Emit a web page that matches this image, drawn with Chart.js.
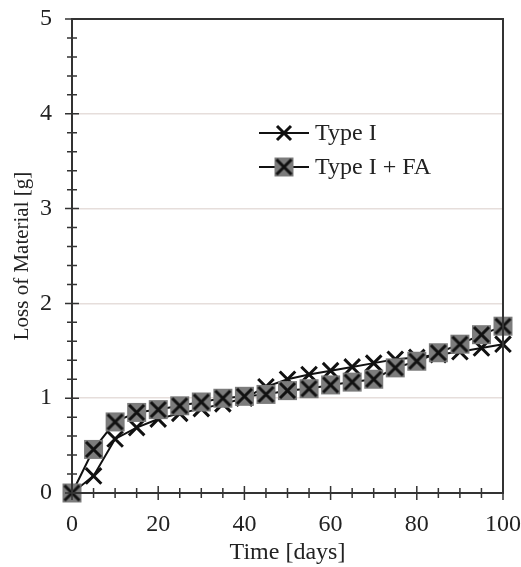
<!DOCTYPE html>
<html>
<head>
<meta charset="utf-8">
<script src="https://cdn.jsdelivr.net/npm/chart.js@4.4.1/dist/chart.umd.min.js"></script>
<style>
  html, body { margin:0; padding:0; background:#fff; }
  #wrap { width:521px; height:567px; }
</style>
</head>
<body>
<div id="wrap"><canvas id="grafico" width="521" height="567"></canvas></div>
<script>
// dados
const dias = [0,5,10,15,20,25,30,35,40,45,50,55,60,65,70,75,80,85,90,95,100];
const tipoI = [0,0.18,0.57,0.69,0.78,0.84,0.89,0.94,1.0,1.12,1.2,1.25,1.29,1.33,1.37,1.41,1.43,1.46,1.49,1.53,1.57];
const tipoIFA = [0,0.46,0.75,0.85,0.88,0.92,0.96,1.0,1.02,1.04,1.08,1.1,1.14,1.17,1.2,1.32,1.39,1.48,1.57,1.67,1.76];
const nomes = ["Type I", "Type I + FA"];
const yMax = 5, xMax = 100;

const fonte = "'Liberation Serif', 'Times New Roman', serif";
const corTexto = "#222";

// marcador: quadrado cinza com X por cima
function marcadorFA(){
  const c = document.createElement("canvas");
  c.width = 21; c.height = 21;
  const g = c.getContext("2d");
  g.fillStyle = "#7c7c7c";
  g.fillRect(1,1,19,19);
  g.strokeStyle = "#111";
  g.lineWidth = 3;
  g.beginPath();
  g.moveTo(3,3); g.lineTo(18,18);
  g.moveTo(18,3); g.lineTo(3,18);
  g.stroke();
  return c;
}
const imgFA = marcadorFA();

function xy(xs, ys){ return xs.map((x,i)=>({x:x, y:ys[i]})); }

// ticks cruzando o eixo + moldura + legenda
const eixosPlugin = {
  id: "eixos",
  afterDraw(chart){
    const ctx = chart.ctx, a = chart.chartArea;
    const sx = chart.scales.x, sy = chart.scales.y;
    ctx.save();
    ctx.strokeStyle = "#333";
    ctx.lineWidth = 1.5;
    ctx.beginPath();
    sy.ticks.forEach(t=>{
      const p = sy.getPixelForValue(t.value);
      const major = Math.abs(t.value - Math.round(t.value)) < 1e-6;
      const l = major ? 7 : 5;
      ctx.moveTo(a.left - l, p); ctx.lineTo(a.left + l, p);
    });
    sx.ticks.forEach(t=>{
      const p = sx.getPixelForValue(t.value);
      const major = t.value % 20 === 0;
      const l = major ? 7 : 5;
      ctx.moveTo(p, a.bottom - l); ctx.lineTo(p, a.bottom + l);
    });
    ctx.stroke();
    ctx.lineWidth = 2;
    ctx.strokeRect(a.left, a.top, a.right - a.left, a.bottom - a.top);
    ctx.restore();

    // legenda
    const lx = a.left + 187, ly = a.top + 114;
    ctx.save();
    ctx.font = "24px " + fonte;
    ctx.fillStyle = corTexto;
    ctx.textBaseline = "middle";
    chart.data.datasets.forEach((ds,i)=>{
      const y = ly + i*34;
      ctx.strokeStyle = "#111";
      ctx.lineWidth = 2;
      ctx.beginPath(); ctx.moveTo(lx, y); ctx.lineTo(lx + 50, y); ctx.stroke();
      if (ds.pointStyle === "crossRot"){
        ctx.lineWidth = 3;
        ctx.beginPath();
        ctx.moveTo(lx+18, y-7); ctx.lineTo(lx+32, y+7);
        ctx.moveTo(lx+32, y-7); ctx.lineTo(lx+18, y+7);
        ctx.stroke();
      } else {
        ctx.drawImage(ds.pointStyle, lx + 25 - 10.5, y - 10.5);
      }
      ctx.fillText(ds.label, lx + 56, y + 1);
    });
    ctx.restore();
  }
};

new Chart(document.getElementById("grafico"), {
  type: "line",
  data: {
    datasets: [
      { label: nomes[0], data: xy(dias, tipoI), order: 1, clip: false,
        borderColor: "#111", borderWidth: 2, tension: 0,
        pointStyle: "crossRot", pointRadius: 11, pointBorderWidth: 3,
        pointBorderColor: "#111", pointBackgroundColor: "#111" },
      { label: nomes[1], data: xy(dias, tipoIFA), order: 0, clip: false,
        borderColor: "#111", borderWidth: 2, tension: 0,
        pointStyle: imgFA, pointRadius: 10 }
    ]
  },
  options: {
    responsive: false,
    animation: false,
    layout: { padding: { top: 19, right: 18, left: 10, bottom: 0 } },
    plugins: { legend: { display: false }, tooltip: { enabled: false } },
    scales: {
      x: {
        type: "linear", min: 0, max: xMax,
        afterFit: s => { s.height = 74; s.paddingLeft = 0; s.paddingRight = 0; },
        ticks: { stepSize: 5, padding: 17, color: corTexto, maxRotation: 0, autoSkip: false,
          font: { family: fonte, size: 24 },
          callback: v => v % 20 === 0 ? v : "" },
        grid: { display: false, drawTicks: false },
        border: { display: false },
        title: { display: true, text: "Time [days]", color: corTexto,
          font: { family: fonte, size: 24 }, padding: { top: 0, bottom: 0 } }
      },
      y: {
        min: 0, max: yMax,
        afterFit: s => { s.width = 62; s.paddingTop = 0; s.paddingBottom = 0; },
        ticks: { stepSize: 0.2, padding: 20, color: corTexto, autoSkip: false,
          font: { family: fonte, size: 24 },
          callback: v => Math.abs(v - Math.round(v)) < 1e-6 ? Math.round(v) : "" },
        grid: { drawTicks: false, lineWidth: 1.5,
          color: c => {
            const v = c.tick.value;
            return (Math.abs(v - Math.round(v)) < 1e-6 && v > 0 && v < yMax) ? "#e6dedb" : "rgba(0,0,0,0)";
          } },
        border: { display: false },
        title: { display: true, text: "Loss of Material [g]", color: corTexto,
          font: { family: fonte, size: 21 }, padding: { top: 0, bottom: 0 } }
      }
    }
  },
  plugins: [eixosPlugin]
});
</script>
</body>
</html>
